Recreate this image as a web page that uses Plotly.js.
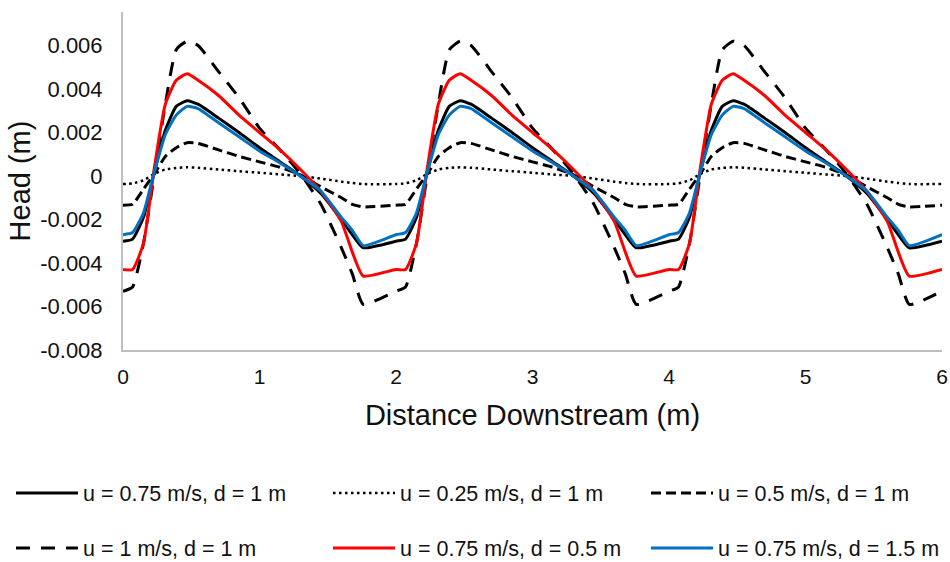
<!DOCTYPE html>
<html>
<head>
<meta charset="utf-8">
<script src="https://cdn.plot.ly/plotly-3.0.1.min.js"></script>
<style>
  html, body { margin: 0; padding: 0; background: #ffffff; }
  #chart { width: 950px; height: 562px; }
</style>
</head>
<body>
<div id="chart"></div>
<script>
// Distance downstream (m)
const distance = [
  0, 0.07, 0.15, 0.23, 0.31, 0.39, 0.47, 0.55, 0.7, 0.85, 1.0, 1.15, 1.3, 1.45, 1.6, 1.68, 1.76,
  2.0, 2.07, 2.15, 2.23, 2.31, 2.39, 2.47, 2.55, 2.7, 2.85, 3.0, 3.15, 3.3, 3.45, 3.6, 3.68, 3.76,
  4.0, 4.07, 4.15, 4.23, 4.31, 4.39, 4.47, 4.55, 4.7, 4.85, 5.0, 5.15, 5.3, 5.45, 5.6, 5.68, 5.76,
  6.0
];

// Head (m): u = 0.75 m/s, d = 1 m
const head_u075_d1 = [
  -0.0030, -0.0029, -0.0019, 0.0002, 0.0021, 0.0032, 0.00346, 0.0033, 0.00266, 0.0020, 0.0013, 0.00065, 0.0000, -0.0008, -0.0020, -0.0027, -0.0033,
  -0.0030, -0.0029, -0.0019, 0.0002, 0.0021, 0.0032, 0.00346, 0.0033, 0.00266, 0.0020, 0.0013, 0.00065, 0.0000, -0.0008, -0.0020, -0.0027, -0.0033,
  -0.0030, -0.0029, -0.0019, 0.0002, 0.0021, 0.0032, 0.00346, 0.0033, 0.00266, 0.0020, 0.0013, 0.00065, 0.0000, -0.0008, -0.0020, -0.0027, -0.0033,
  -0.0030
];
// u = 0.25 m/s, d = 1 m
const head_u025_d1 = [
  -0.00037, -0.00034, -0.0002, 0.0001, 0.0003, 0.00037, 0.0004, 0.00038, 0.0003, 0.00022, 0.00015, 0.00007, 0.0, -0.00012, -0.00026, -0.00032, -0.00037,
  -0.00037, -0.00034, -0.0002, 0.0001, 0.0003, 0.00037, 0.0004, 0.00038, 0.0003, 0.00022, 0.00015, 0.00007, 0.0, -0.00012, -0.00026, -0.00032, -0.00037,
  -0.00037, -0.00034, -0.0002, 0.0001, 0.0003, 0.00037, 0.0004, 0.00038, 0.0003, 0.00022, 0.00015, 0.00007, 0.0, -0.00012, -0.00026, -0.00032, -0.00037,
  -0.00037
];
// u = 0.5 m/s, d = 1 m
const head_u05_d1 = [
  -0.00134, -0.0013, -0.0006, 0.0001, 0.0009, 0.0013, 0.00153, 0.0015, 0.0012, 0.0009, 0.00065, 0.0004, 0.00005, -0.0005, -0.0010, -0.0013, -0.00142,
  -0.00134, -0.0013, -0.0006, 0.0001, 0.0009, 0.0013, 0.00153, 0.0015, 0.0012, 0.0009, 0.00065, 0.0004, 0.00005, -0.0005, -0.0010, -0.0013, -0.00142,
  -0.00134, -0.0013, -0.0006, 0.0001, 0.0009, 0.0013, 0.00153, 0.0015, 0.0012, 0.0009, 0.00065, 0.0004, 0.00005, -0.0005, -0.0010, -0.0013, -0.00142,
  -0.00134
];
// u = 1 m/s, d = 1 m
const head_u1_d1 = [
  -0.0053, -0.0051, -0.0031, 0.0001, 0.0033, 0.0058, 0.0062, 0.0060, 0.0048, 0.0036, 0.0022, 0.0012, 0.0001, -0.0013, -0.0033, -0.0045, -0.0059,
  -0.0053, -0.0051, -0.0031, 0.0001, 0.0033, 0.0058, 0.0062, 0.0060, 0.0048, 0.0036, 0.0022, 0.0012, 0.0001, -0.0013, -0.0033, -0.0045, -0.0059,
  -0.0053, -0.0051, -0.0031, 0.0001, 0.0033, 0.0058, 0.0062, 0.0060, 0.0048, 0.0036, 0.0022, 0.0012, 0.0001, -0.0013, -0.0033, -0.0045, -0.0059,
  -0.0053
];
// u = 0.75 m/s, d = 0.5 m
const head_u075_d05 = [
  -0.0043, -0.0043, -0.0031, 0.0004, 0.0033, 0.0044, 0.0047, 0.0044, 0.0037, 0.0028, 0.0020, 0.0012, 0.0003, -0.0007, -0.0021, -0.0035, -0.0046,
  -0.0043, -0.0043, -0.0031, 0.0004, 0.0033, 0.0044, 0.0047, 0.0044, 0.0037, 0.0028, 0.0020, 0.0012, 0.0003, -0.0007, -0.0021, -0.0035, -0.0046,
  -0.0043, -0.0043, -0.0031, 0.0004, 0.0033, 0.0044, 0.0047, 0.0044, 0.0037, 0.0028, 0.0020, 0.0012, 0.0003, -0.0007, -0.0021, -0.0035, -0.0046,
  -0.0043
];
// u = 0.75 m/s, d = 1.5 m
const head_u075_d15 = [
  -0.0027, -0.0026, -0.0017, 0.0002, 0.0019, 0.0028, 0.0032, 0.0031, 0.00245, 0.0018, 0.00115, 0.0006, 0.0000, -0.0007, -0.0019, -0.0025, -0.0032,
  -0.0027, -0.0026, -0.0017, 0.0002, 0.0019, 0.0028, 0.0032, 0.0031, 0.00245, 0.0018, 0.00115, 0.0006, 0.0000, -0.0007, -0.0019, -0.0025, -0.0032,
  -0.0027, -0.0026, -0.0017, 0.0002, 0.0019, 0.0028, 0.0032, 0.0031, 0.00245, 0.0018, 0.00115, 0.0006, 0.0000, -0.0007, -0.0019, -0.0025, -0.0032,
  -0.0027
];

const seriesNames = [
  "u = 0.75 m/s, d = 1 m",
  "u = 0.25 m/s, d = 1 m",
  "u = 0.5 m/s, d = 1 m",
  "u = 1 m/s, d = 1 m",
  "u = 0.75 m/s, d = 0.5 m",
  "u = 0.75 m/s, d = 1.5 m"
];

const xTickVals = [0, 1, 2, 3, 4, 5, 6];
const xTickText = ["0", "1", "2", "3", "4", "5", "6"];
const yTickVals = [-0.008, -0.006, -0.004, -0.002, 0, 0.002, 0.004, 0.006];
const yTickText = ["-0.008", "-0.006", "-0.004", "-0.002", "0", "0.002", "0.004", "0.006"];

const regular = "'Liberation Sans', Arial, sans-serif";

function tr(y, name, color, width, dash, legend) {
  return {
    x: distance, y: y, name: name, type: "scatter", mode: "lines",
    line: { color: color, width: width, dash: dash, shape: "spline", smoothing: 0.5 },
    legend: legend
  };
}

const data = [
  tr(head_u075_d1, seriesNames[0], "#000000", 3, "solid", "legend"),
  tr(head_u025_d1, seriesNames[1], "#000000", 2.5, "2.5px,3.5px", "legend2"),
  tr(head_u05_d1, seriesNames[2], "#000000", 3, "10px,5px", "legend3"),
  tr(head_u1_d1, seriesNames[3], "#000000", 3, "14px,11px", "legend4"),
  tr(head_u075_d05, seriesNames[4], "#FF0000", 3, "solid", "legend5"),
  tr(head_u075_d15, seriesNames[5], "#0070C0", 3, "solid", "legend6")
];

// one legend box per entry, laid out in a 3 x 2 grid under the chart
function legendBox(xPx, yPx) {
  return {
    orientation: "h",
    xref: "container", yref: "container",
    xanchor: "left", yanchor: "middle",
    x: xPx / 950, y: 1 - yPx / 562,
    font: { family: regular, size: 21.5, color: "#111111" },
    bgcolor: "rgba(0,0,0,0)",
    borderwidth: 0,
    itemwidth: 62
  };
}

const layout = {
  width: 950, height: 562,
  margin: { l: 123, r: 8, t: 12, b: 212 },
  paper_bgcolor: "#ffffff",
  plot_bgcolor: "#ffffff",
  showlegend: true,
  xaxis: {
    range: [0, 6], automargin: false,
    tickvals: xTickVals, ticktext: xTickText,
    showgrid: false, zeroline: false,
    showline: true, linecolor: "#bfbfbf", linewidth: 2,
    ticks: "", ticklabelstandoff: 7,
    tickfont: { family: regular, size: 21, color: "#111111" },
    title: { text: "Distance Downstream (m)", font: { family: regular, size: 29, color: "#111111" }, standoff: 17 }
  },
  yaxis: {
    range: [-0.008, 0.00754], automargin: false,
    tickvals: yTickVals, ticktext: yTickText,
    showgrid: false, zeroline: false,
    showline: true, linecolor: "#bfbfbf", linewidth: 2,
    ticks: "", ticklabelstandoff: 14,
    tickfont: { family: regular, size: 22, color: "#111111" },
    title: { text: "Head (m)", font: { family: regular, size: 29, color: "#111111" }, standoff: 1 }
  },
  legend: legendBox(11, 493),
  legend2: legendBox(328, 493),
  legend3: legendBox(646, 493),
  legend4: legendBox(11, 548),
  legend5: legendBox(328, 548),
  legend6: legendBox(646, 548)
};

Plotly.newPlot("chart", data, layout, { displayModeBar: false, staticPlot: true });
</script>
</body>
</html>
